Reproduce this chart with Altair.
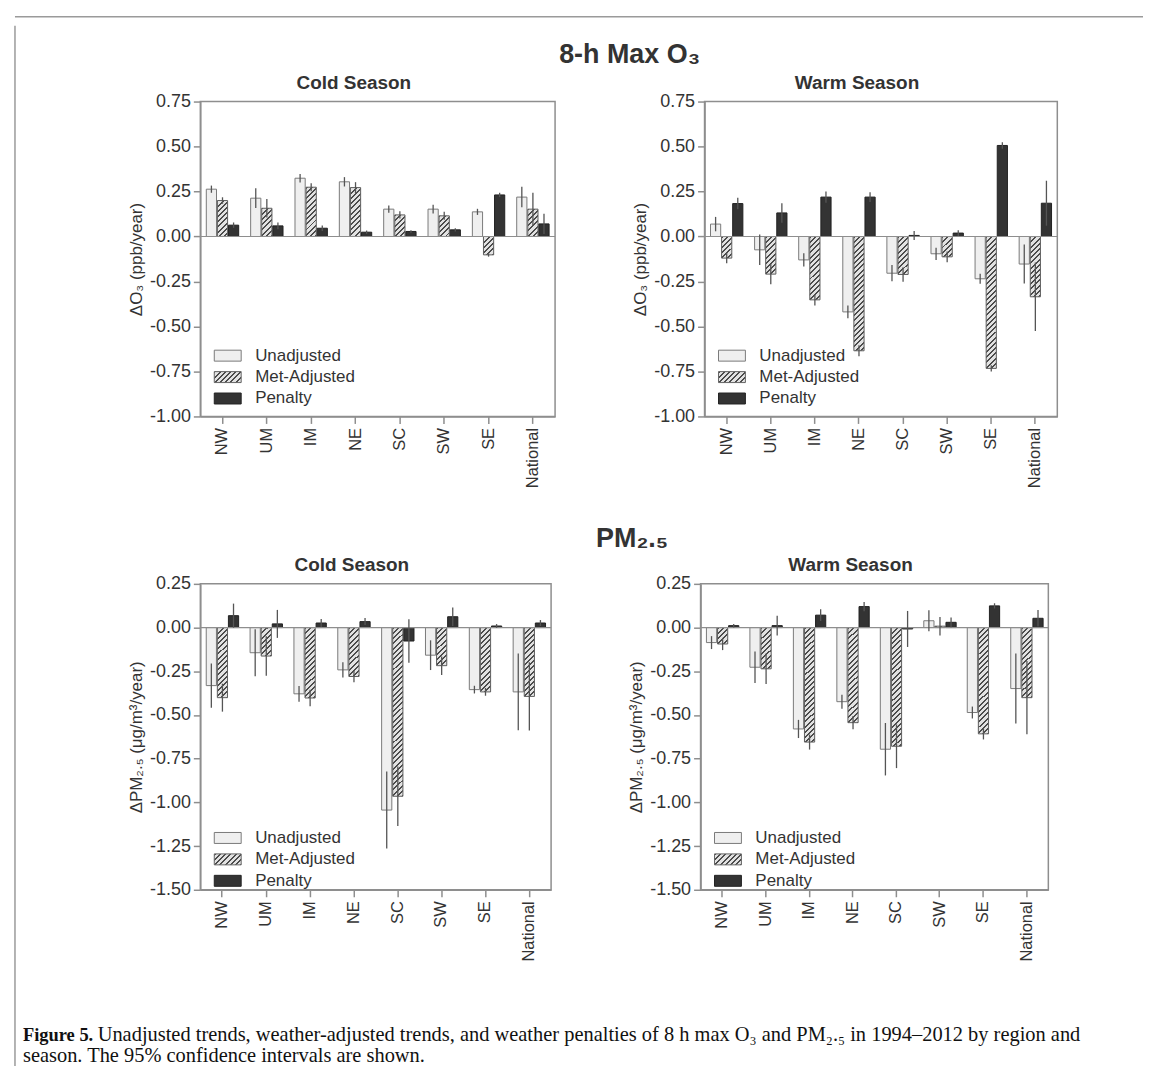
import math
import altair as alt
import pandas as pd

regions = ["NW", "UM", "IM", "NE", "SC", "SW", "SE", "National"]
series = ["Unadjusted", "Met-Adjusted", "Penalty"]

# 8-h max O3, cold season (ppb/year) and 95% CI half-widths
o3_cold_unadj = [0.263, 0.213, 0.324, 0.304, 0.152, 0.152, 0.137, 0.219]
o3_cold_unadj_ci = [0.020, 0.055, 0.024, 0.026, 0.020, 0.024, 0.017, 0.057]
o3_cold_met = [0.200, 0.157, 0.274, 0.272, 0.120, 0.115, -0.102, 0.152]
o3_cold_met_ci = [0.018, 0.052, 0.022, 0.030, 0.020, 0.022, 0.010, 0.091]
o3_cold_pen = [0.063, 0.059, 0.046, 0.024, 0.028, 0.037, 0.231, 0.070]
o3_cold_pen_ci = [0.015, 0.019, 0.015, 0.009, 0.007, 0.009, 0.012, 0.056]

# 8-h max O3, warm season
o3_warm_unadj = [0.069, -0.074, -0.130, -0.419, -0.204, -0.096, -0.235, -0.153]
o3_warm_unadj_ci = [0.040, 0.085, 0.037, 0.035, 0.045, 0.034, 0.028, 0.108]
o3_warm_met = [-0.120, -0.209, -0.352, -0.635, -0.211, -0.113, -0.733, -0.335]
o3_warm_met_ci = [0.028, 0.056, 0.031, 0.030, 0.040, 0.030, 0.017, 0.190]
o3_warm_pen = [0.183, 0.131, 0.219, 0.219, 0.006, 0.019, 0.506, 0.185]
o3_warm_pen_ci = [0.032, 0.054, 0.031, 0.027, 0.025, 0.016, 0.018, 0.125]

# PM2.5, cold season (ug/m3/year)
pm_cold_unadj = [-0.332, -0.144, -0.379, -0.242, -1.044, -0.158, -0.355, -0.368]
pm_cold_unadj_ci = [0.127, 0.135, 0.045, 0.043, 0.220, 0.085, 0.022, 0.220]
pm_cold_met = [-0.401, -0.163, -0.403, -0.280, -0.965, -0.218, -0.368, -0.394]
pm_cold_met_ci = [0.080, 0.113, 0.047, 0.033, 0.170, 0.053, 0.022, 0.195]
pm_cold_pen = [0.068, 0.021, 0.026, 0.034, -0.077, 0.062, 0.009, 0.026]
pm_cold_pen_ci = [0.069, 0.080, 0.023, 0.020, 0.125, 0.053, 0.011, 0.017]

# PM2.5, warm season
pm_warm_unadj = [-0.086, -0.227, -0.580, -0.424, -0.696, 0.039, -0.486, -0.349]
pm_warm_unadj_ci = [0.037, 0.090, 0.052, 0.040, 0.150, 0.060, 0.034, 0.200]
pm_warm_met = [-0.094, -0.236, -0.655, -0.544, -0.679, 0.008, -0.608, -0.401]
pm_warm_met_ci = [0.035, 0.087, 0.043, 0.038, 0.125, 0.053, 0.032, 0.210]
pm_warm_pen = [0.011, 0.011, 0.071, 0.120, -0.008, 0.030, 0.124, 0.053]
pm_warm_pen_ci = [0.010, 0.057, 0.034, 0.026, 0.103, 0.028, 0.015, 0.047]

o3_ticks = [0.75, 0.50, 0.25, 0.00, -0.25, -0.50, -0.75, -1.00]
pm_ticks = [0.25, 0.00, -0.25, -0.50, -0.75, -1.00, -1.25, -1.50]

caption_bold = "Figure 5."
caption_line1 = ("Unadjusted trends, weather-adjusted trends, and weather penalties of 8 h max O\u2083 "
                 "and PM\u2082.\u2085 in 1994\u20132012 by region and")
caption_line2 = "season. The 95% confidence intervals are shown."

FONT = "Liberation Sans"
SERIF = "Liberation Serif"
GRAY = "#8e8e8e"
INK = "#333333"

one = pd.DataFrame({"k": [0]})


def build_df(u, uc, m, mc, p, pc):
    rows = []
    for i, r in enumerate(regions):
        for s, v, c in ((series[0], u[i], uc[i]), (series[1], m[i], mc[i]), (series[2], p[i], pc[i])):
            rows.append({"region": r, "series": s, "value": v, "lo": v - c, "hi": v + c})
    return pd.DataFrame(rows)


def hatch(w, h, s=3.7, f=0.38, dark="#4c4c4c", light="#e2e2e2"):
    w = max(w, 1.0)
    h = max(h, 1.0)
    lam = (w + h) / (w * w + h * h)
    p = s * math.sqrt(2) / (w + h)
    stops = []
    k = 0
    while k * p < 1:
        a = k * p
        b = min(a + f * p, 1.0)
        c = min(a + p, 1.0)
        stops += [{"offset": round(a, 5), "color": dark}, {"offset": round(b, 5), "color": dark},
                  {"offset": round(b, 5), "color": light}, {"offset": round(c, 5), "color": light}]
        k += 1
    return {"gradient": "linear", "x1": 0, "y1": 0, "x2": round(w * lam, 5), "y2": round(h * lam, 5),
            "stops": stops}


def legend_layers():
    items = [("Unadjusted", "#efefef", "#7a7a7a"),
             ("Met-Adjusted", hatch(27, 11), "#666666"),
             ("Penalty", "#333333", "#222222")]
    out = []
    for i, (lab, fill, stroke) in enumerate(items):
        yc = 255 + 21.5 * i
        out.append(alt.Chart(one).mark_rect(fill=fill, stroke=stroke, strokeWidth=1).encode(
            x=alt.value(14), x2=alt.value(41), y=alt.value(yc - 5.5), y2=alt.value(yc + 5.5)))
        out.append(alt.Chart(one).mark_text(align="left", baseline="middle", font=FONT, fontSize=17,
                                             color=INK).encode(
            x=alt.value(55), y=alt.value(yc), text=alt.value(lab)))
    return out


def panel(df, title, ytitle, ydomain, ticks, width, height):
    ppu = height / (ydomain[1] - ydomain[0])
    step = width / len(regions)
    pin = 0.27
    bar_w = step * (1 - pin) * (1 - 0.08) / (3 - 0.08)
    met = df[df.series == "Met-Adjusted"]
    conds = [{"test": f"datum.series === 'Met-Adjusted' && datum.region === '{r}'",
              "value": hatch(bar_w, abs(v) * ppu)} for r, v in zip(met.region, met.value)]
    conds.append({"test": "datum.series === 'Unadjusted'", "value": "#efefef"})
    fill = {"condition": conds, "value": "#333333"}
    stroke = {"condition": [{"test": "datum.series === 'Unadjusted'", "value": "#7a7a7a"},
                            {"test": "datum.series === 'Met-Adjusted'", "value": "#5e5e5e"}],
              "value": "#222222"}

    xaxis = alt.Axis(title=None, labelAngle=-90, labelAlign="right", labelBaseline="middle",
                     labelFont=FONT, labelFontSize=16.5, labelColor=INK, tickSize=7, tickColor=GRAY,
                     tickWidth=1.5, domainColor=GRAY, domainWidth=1.5, labelPadding=4)
    yaxis = alt.Axis(title=ytitle, values=ticks, grid=False,
                     labelExpr="datum.value < 0 ? '-' + format(-datum.value, '.2f') : format(datum.value, '.2f')",
                     labelFont=FONT, labelFontSize=18, labelColor=INK, titleFont=FONT, titleFontSize=17,
                     titleFontWeight="normal", titleColor=INK, tickSize=7, tickColor=GRAY, tickWidth=1.5,
                     domainColor=GRAY, domainWidth=1.5, labelPadding=3, titlePadding=4)
    yscale = alt.Scale(domain=ydomain, nice=False)
    x = alt.X("region:N", sort=regions, scale=alt.Scale(domain=regions, paddingInner=pin, paddingOuter=pin / 2),
              axis=xaxis)
    xo = alt.XOffset("series:N", sort=series, scale=alt.Scale(domain=series, paddingInner=0.08, paddingOuter=0))

    bars = alt.Chart(df).mark_bar(strokeWidth=1).encode(
        x=x, xOffset=xo, y=alt.Y("value:Q", scale=yscale, axis=yaxis), fill=fill, stroke=stroke)
    zero = alt.Chart(one).transform_calculate(z="0").mark_rule(color=GRAY, strokeWidth=1.2).encode(
        y=alt.Y("z:Q", scale=yscale, axis=yaxis))
    err = alt.Chart(df).mark_rule(color="#555555", strokeWidth=1.3).encode(
        x=x, xOffset=xo, y=alt.Y("lo:Q", scale=yscale, axis=yaxis), y2="hi:Q")
    return alt.layer(bars, zero, err, *legend_layers()).properties(
        width=width, height=height,
        title=alt.TitleParams(title, font=FONT, fontSize=19, fontWeight="bold", color=INK, offset=0, dx=-24),
        view=alt.ViewBackground(stroke=GRAY, strokeWidth=1.5))


def blank(w, h):
    return alt.Chart(one).mark_text(text="").encode(x=alt.value(0), y=alt.value(0)).properties(width=w, height=h)


o3_title = "\u0394O\u2083 (ppb/year)"
pm_title = "\u0394PM\u2082.\u2085 (\u03bcg/m\u00b3/year)"

p_o3c = panel(build_df(o3_cold_unadj, o3_cold_unadj_ci, o3_cold_met, o3_cold_met_ci, o3_cold_pen, o3_cold_pen_ci),
              "Cold Season", o3_title, [-1.0, 0.75], o3_ticks, 356, 316)
p_o3w = panel(build_df(o3_warm_unadj, o3_warm_unadj_ci, o3_warm_met, o3_warm_met_ci, o3_warm_pen, o3_warm_pen_ci),
              "Warm Season", o3_title, [-1.0, 0.75], o3_ticks, 354, 316)
p_pmc = panel(build_df(pm_cold_unadj, pm_cold_unadj_ci, pm_cold_met, pm_cold_met_ci, pm_cold_pen, pm_cold_pen_ci),
              "Cold Season", pm_title, [-1.5, 0.25], pm_ticks, 352, 307)
p_pmw = panel(build_df(pm_warm_unadj, pm_warm_unadj_ci, pm_warm_met, pm_warm_met_ci, pm_warm_pen, pm_warm_pen_ci),
              "Warm Season", pm_title, [-1.5, 0.25], pm_ticks, 349, 307)

row1 = alt.hconcat(p_o3c, p_o3w, spacing=74).properties(
    title=alt.TitleParams("8-h Max O\u2083", font=FONT, fontSize=27, fontWeight="bold", color=INK, offset=4,
                          anchor="middle", dx=37))
row2 = alt.hconcat(p_pmc, p_pmw, spacing=74).properties(
    title=alt.TitleParams("PM\u2082.\u2085", font=FONT, fontSize=27, fontWeight="bold", color=INK, offset=2,
                          anchor="middle", dx=44))

main = alt.hconcat(blank(108, 10), alt.vconcat(row1, row2, spacing=36), spacing=0)

caption = alt.layer(
    alt.Chart(one).mark_text(align="left", baseline="alphabetic", font=SERIF, fontSize=18.5, fontWeight="bold",
                             color="#111111").encode(x=alt.value(5), y=alt.value(15), text=alt.value(caption_bold)),
    alt.Chart(one).mark_text(align="left", baseline="alphabetic", font=SERIF, fontSize=20.5,
                             color="#111111").encode(x=alt.value(80), y=alt.value(15), text=alt.value(caption_line1)),
    alt.Chart(one).mark_text(align="left", baseline="alphabetic", font=SERIF, fontSize=20.5,
                             color="#111111").encode(x=alt.value(5), y=alt.value(36), text=alt.value(caption_line2)),
).properties(width=1100, height=38)

content = alt.vconcat(blank(10, 14), main, blank(10, 54), caption, spacing=0)

topline = alt.Chart(one).mark_rule(color="#9a9a9a", strokeWidth=1.5).encode(
    x=alt.value(0), x2=alt.value(1132), y=alt.value(0)).properties(width=1130, height=1)
leftline = alt.Chart(one).mark_rule(color="#9a9a9a", strokeWidth=1.5).encode(
    x=alt.value(0), y=alt.value(0), y2=alt.value(1052)).properties(width=1, height=1040)

chart = alt.vconcat(topline, alt.hconcat(leftline, content, spacing=0), spacing=0).properties(
    padding={"left": 5, "top": 5, "right": 0, "bottom": 0}
).configure_view(stroke="transparent")

chart.save("out.html", embed_options={"renderer": "svg", "actions": False})
